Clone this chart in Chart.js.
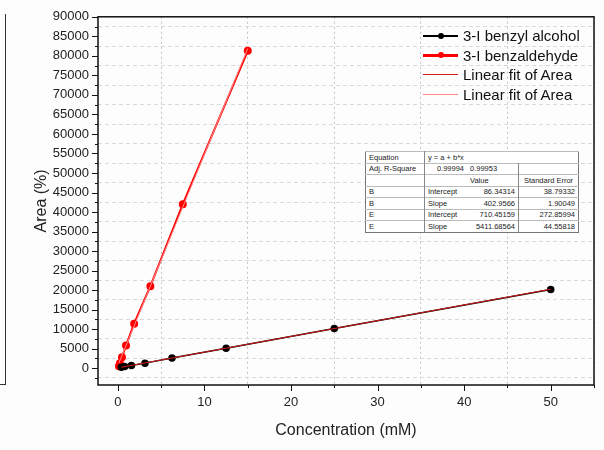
<!DOCTYPE html>
<html lang="en">
<head>
  <meta charset="UTF-8">
  <title>Calibration curves</title>
  <script src="https://cdn.jsdelivr.net/npm/chart.js"></script>
  <style>
    body {
      margin: 0;
      padding: 0;
      background: #fdfdfd;
      font-family: "Liberation Sans", Arial, sans-serif;
    }
    .wrap {
      position: relative;
      width: 604px;
      height: 450px;
      overflow: hidden;
    }
    /* edge of the neighbouring panel */
    .side-frame {
      position: absolute;
      left: -2px;
      top: 14px;
      width: 7px;
      height: 370px;
      border-right: 1px solid #333;
      border-bottom: 1px solid #333;
    }
    #legend {
      position: absolute;
      left: 423px;
      top: 26px;
      font-size: 15px;
      color: #111;
    }
    #legend .row {
      position: relative;
      height: 19.5px;
      line-height: 19.5px;
      padding-left: 40px;
      white-space: nowrap;
    }
    #legend .sym {
      position: absolute;
      left: 0;
      top: 50%;
      width: 35px;
    }
    #legend .dot {
      position: absolute;
      left: 15px;
      width: 6px;
      height: 6px;
      border-radius: 50%;
    }
    #fitTable {
      position: absolute;
      left: 365px;
      top: 151px;
      border-collapse: collapse;
      font-size: 7.5px;
      color: #222;
      background: #fff;
      border: 1px solid #777;
    }
    #fitTable td {
      height: 10.5px;
      padding: 0 3px;
      border-top: 1px solid #bbb;
      white-space: nowrap;
    }
    #fitTable td.c1 { width: 52px; border-right: 1px solid #888; }
    #fitTable td.c2 { width: 36px; }
    #fitTable td.c3 { width: 45px; border-right: 1px solid #888; }
    #fitTable td.c4 { width: 53px; }
    #fitTable td.num { text-align: right; }
    #fitTable td.mid { text-align: center; }
  </style>
</head>
<body>
  <div class="wrap">
    <canvas id="calChart" width="604" height="450"></canvas>
    <div class="side-frame"></div>
    <div id="legend"></div>
    <table id="fitTable"></table>
  </div>

  <script>
    // Peak area vs. concentration for the two standards
    const alcoholConc = [0.390625, 0.78125, 1.5625, 3.125, 6.25, 12.5, 25, 50];
    const alcoholArea = [250, 420, 700, 1300, 2600, 5100, 10150, 20150];
    const aldehydeConc = [0.1171875, 0.234375, 0.46875, 0.9375, 1.875, 3.75, 7.5, 15];
    const aldehydeArea = [500, 1300, 2800, 5800, 11400, 21000, 42000, 81300];

    // Linear fit results (B = benzyl alcohol, E = benzaldehyde)
    const fitNames = ['B', 'E'];
    const fitAdjR2 = ['0.99994', '0.99953'];
    const fitIntercept = [86.34314, 710.45159];
    const fitInterceptErr = [38.79332, 272.85994];
    const fitSlope = [402.9566, 5411.68564];
    const fitSlopeErr = [1.90049, 44.55818];

    // Axis ticks
    const xMajor = [0, 10, 20, 30, 40, 50];
    const yMajor = [0, 5000, 10000, 15000, 20000, 25000, 30000, 35000, 40000, 45000,
                    50000, 55000, 60000, 65000, 70000, 75000, 80000, 85000, 90000];

    const toPoints = (xs, ys) => xs.map((x, i) => ({ x: x, y: ys[i] }));
    const fitLine = (xs, k) => {
      const x0 = Math.min(...xs), x1 = Math.max(...xs);
      return [
        { x: x0, y: fitIntercept[k] + fitSlope[k] * x0 },
        { x: x1, y: fitIntercept[k] + fitSlope[k] * x1 }
      ];
    };

    // minor ticks halfway between majors
    const withMinor = (major) => {
      const step = major[1] - major[0];
      const out = [major[0] - step / 2];
      major.forEach(v => { out.push(v); out.push(v + step / 2); });
      return out;
    };
    const xTicks = withMinor(xMajor);
    const yTicks = withMinor(yMajor).filter(v => v <= yMajor[yMajor.length - 1]);

    // outward ticks and the black box around the plot
    const frameTicks = {
      id: 'frameTicks',
      afterDraw(chart) {
        const { ctx, chartArea: a, scales: { x, y } } = chart;
        ctx.save();
        ctx.strokeStyle = '#111';
        ctx.lineWidth = 1;
        ctx.beginPath();
        xTicks.forEach(v => {
          if (v < x.min || v > x.max) return;
          const px = Math.round(x.getPixelForValue(v)) + 0.5;
          const len = xMajor.includes(v) ? 6 : 3;
          ctx.moveTo(px, a.bottom);
          ctx.lineTo(px, a.bottom + len);
        });
        yTicks.forEach(v => {
          if (v < y.min || v > y.max) return;
          const py = Math.round(y.getPixelForValue(v)) + 0.5;
          const len = yMajor.includes(v) ? 6 : 3;
          ctx.moveTo(a.left, py);
          ctx.lineTo(a.left - len, py);
        });
        ctx.stroke();
        ctx.lineWidth = 1.5;
        ctx.strokeRect(a.left, a.top, a.right - a.left, a.bottom - a.top);
        ctx.restore();
      }
    };

    const font = { family: '"Liberation Sans", Arial, sans-serif' };

    new Chart(document.getElementById('calChart'), {
      type: 'scatter',
      data: {
        datasets: [
          {
            label: 'Linear fit of Area',
            data: fitLine(alcoholConc, 0),
            showLine: true,
            borderColor: '#d81818',
            borderWidth: 1,
            pointRadius: 0,
            order: 0
          },
          {
            label: 'Linear fit of Area',
            data: fitLine(aldehydeConc, 1),
            showLine: true,
            borderColor: '#ff8a8a',
            borderWidth: 1,
            pointRadius: 0,
            order: 0
          },
          {
            label: '3-I benzyl alcohol',
            data: toPoints(alcoholConc, alcoholArea),
            showLine: true,
            borderColor: '#000',
            backgroundColor: '#000',
            borderWidth: 1.5,
            pointRadius: 3,
            order: 1
          },
          {
            label: '3-I benzaldehyde',
            data: toPoints(aldehydeConc, aldehydeArea),
            showLine: true,
            borderColor: '#ff0000',
            backgroundColor: '#ff0000',
            borderWidth: 2,
            pointRadius: 3,
            order: 1
          }
        ]
      },
      plugins: [frameTicks],
      options: {
        responsive: false,
        animation: false,
        events: [],
        layout: { padding: { top: 14, right: 8, left: 0, bottom: 0 } },
        plugins: {
          legend: { display: false },
          tooltip: { enabled: false }
        },
        scales: {
          x: {
            type: 'linear',
            min: -2.3,
            max: 55,
            afterBuildTicks: (s) => { s.ticks = xTicks.filter(v => v >= s.min && v <= s.max).map(v => ({ value: v })); },
            afterFit: (s) => { s.height = 65; },
            ticks: {
              autoSkip: false,
              maxRotation: 0,
              padding: 10,
              color: '#222',
              font: { ...font, size: 13 },
              callback: (v) => xMajor.includes(v) ? String(v) : ''
            },
            grid: {
              drawTicks: false,
              color: (c) => c.tick && !xMajor.includes(c.tick.value) ? '#c4c4c4' : 'rgba(0,0,0,0)'
            },
            border: { display: false, dash: [2, 3] },
            title: {
              display: true,
              text: 'Concentration (mM)',
              color: '#222',
              font: { ...font, size: 16 },
              padding: { top: 0, bottom: 10 }
            }
          },
          y: {
            min: -4300,
            max: 90000,
            afterBuildTicks: (s) => { s.ticks = yTicks.filter(v => v >= s.min && v <= s.max).map(v => ({ value: v })); },
            afterFit: (s) => { s.width = 98; },
            ticks: {
              autoSkip: false,
              padding: 9,
              color: '#222',
              font: { ...font, size: 13 },
              callback: (v) => yMajor.includes(v) ? String(v) : ''
            },
            grid: {
              drawTicks: false,
              color: (c) => c.tick && !yMajor.includes(c.tick.value) ? '#dadada' : 'rgba(0,0,0,0)'
            },
            border: { display: false, dash: [4, 3] },
            title: {
              display: true,
              text: 'Area (%)',
              color: '#222',
              font: { ...font, size: 16 },
              padding: { top: 32, bottom: 0 }
            }
          }
        }
      }
    });

    // legend entries: line colour, line width, dot
    const legendItems = [
      { text: '3-I benzyl alcohol', color: '#000', width: 2, dot: true },
      { text: '3-I benzaldehyde', color: '#ff0000', width: 3, dot: true },
      { text: 'Linear fit of Area', color: '#d81818', width: 1, dot: false },
      { text: 'Linear fit of Area', color: '#ff8a8a', width: 1.5, dot: false }
    ];
    document.getElementById('legend').innerHTML = legendItems.map(it =>
      `<div class="row"><span class="sym" style="border-top:${it.width}px solid ${it.color};margin-top:${-it.width / 2}px">` +
      (it.dot ? `<span class="dot" style="background:${it.color};top:${-3 - it.width / 2}px"></span>` : '') +
      `</span>${it.text}</div>`
    ).join('');

    // fit parameter table
    let rows = '';
    rows += '<tr><td class="c1">Equation</td><td class="c2" colspan="2">y = a + b*x</td><td class="c4"></td></tr>';
    rows += `<tr><td class="c1">Adj. R-Square</td><td class="c2 num">${fitAdjR2[0]}</td><td class="c3">${fitAdjR2[1]}</td><td class="c4"></td></tr>`;
    rows += '<tr><td class="c1"></td><td class="c2"></td><td class="c3">Value</td><td class="c4 mid">Standard Error</td></tr>';
    fitNames.forEach((n, k) => {
      rows += `<tr><td class="c1">${n}</td><td class="c2">Intercept</td><td class="c3 num">${fitIntercept[k]}</td><td class="c4 num">${fitInterceptErr[k]}</td></tr>`;
      rows += `<tr><td class="c1">${n}</td><td class="c2">Slope</td><td class="c3 num">${fitSlope[k]}</td><td class="c4 num">${fitSlopeErr[k]}</td></tr>`;
    });
    document.getElementById('fitTable').innerHTML = rows;
  </script>
</body>
</html>
